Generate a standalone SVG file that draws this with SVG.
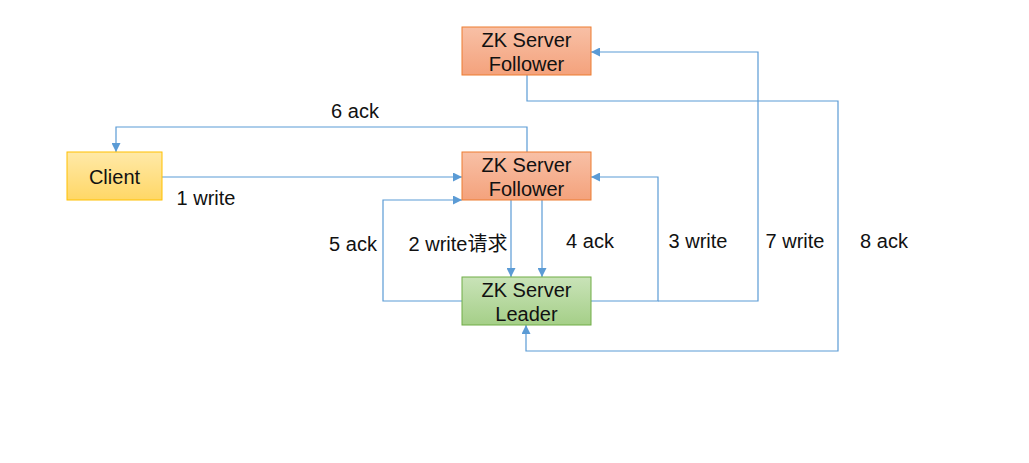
<svg xmlns="http://www.w3.org/2000/svg" width="1029" height="463" viewBox="0 0 1029 463">
<style>
.t{font-family:"Liberation Sans","Noto Sans CJK SC",sans-serif;font-size:20px;fill:#111;text-anchor:middle}
.c{fill:none;stroke:#5b9bd5;stroke-width:1.2}
</style>
<defs>
<linearGradient id="gO" x1="0" y1="0" x2="0" y2="1"><stop offset="0" stop-color="#f8c0a6"/><stop offset="1" stop-color="#f4a27c"/></linearGradient>
<linearGradient id="gY" x1="0" y1="0" x2="0" y2="1"><stop offset="0" stop-color="#ffe9a8"/><stop offset="1" stop-color="#ffd766"/></linearGradient>
<linearGradient id="gG" x1="0" y1="0" x2="0" y2="1"><stop offset="0" stop-color="#c9e3b8"/><stop offset="1" stop-color="#a5cf88"/></linearGradient>
<marker id="a" viewBox="0 0 10 10" refX="10" refY="5" markerWidth="9" markerHeight="9" markerUnits="userSpaceOnUse" orient="auto"><path d="M0,0L10,5L0,10z" fill="#5b9bd5"/></marker>
</defs>
<rect width="1029" height="463" fill="#fff"/>
<g id="connectors">
<path class="c" d="M527,152V127H116V152" marker-end="url(#a)"/>
<path class="c" d="M162,177H462" marker-end="url(#a)"/>
<path class="c" d="M511,200V277" marker-end="url(#a)"/>
<path class="c" d="M542,200V277" marker-end="url(#a)"/>
<path class="c" d="M462,301H383V200H462" marker-end="url(#a)"/>
<path class="c" d="M591,301H658V177H591" marker-end="url(#a)"/>
<path class="c" d="M658,301H758V52H591" marker-end="url(#a)"/>
<path class="c" d="M527,75V101H838V351H526V325" marker-end="url(#a)"/>
</g>
<g id="follower-top"><rect x="462" y="27" width="129" height="48" fill="url(#gO)" stroke="#ed7d31"/><text class="t" x="526.5" y="47">ZK Server</text><text class="t" x="526.5" y="71">Follower</text></g>
<g id="client"><rect x="67" y="152" width="95" height="48" fill="url(#gY)" stroke="#ffc000"/><text class="t" x="114.5" y="184">Client</text></g>
<g id="follower-mid"><rect x="462" y="152" width="129" height="48" fill="url(#gO)" stroke="#ed7d31"/><text class="t" x="526.5" y="172">ZK Server</text><text class="t" x="526.5" y="196">Follower</text></g>
<g id="leader"><rect x="462" y="277" width="129" height="48" fill="url(#gG)" stroke="#70ad47"/><text class="t" x="526.5" y="297">ZK Server</text><text class="t" x="526.5" y="321">Leader</text></g>
<g id="labels">
<text class="t" x="355" y="118">6 ack</text>
<text class="t" x="206" y="205">1 write</text>
<text class="t" x="353" y="251">5 ack</text>
<text class="t" x="458" y="251">2 write请求</text>
<text class="t" x="590" y="248">4 ack</text>
<text class="t" x="698" y="248">3 write</text>
<text class="t" x="795" y="248">7 write</text>
<text class="t" x="884" y="248">8 ack</text>
</g>
</svg>
